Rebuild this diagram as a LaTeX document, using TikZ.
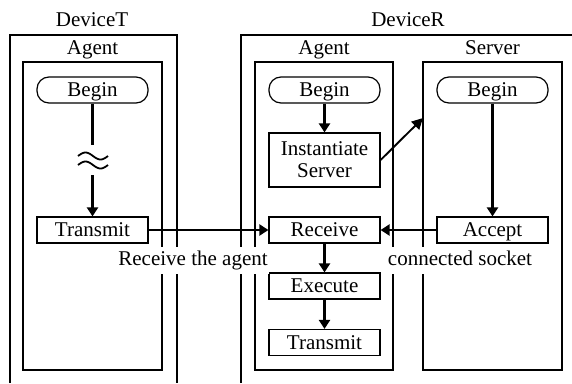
\documentclass[tikz,border=0pt]{standalone}
\usepackage{fontspec}
\setmainfont{Liberation Serif}
\usetikzlibrary{arrows.meta}
\begin{document}
\begin{tikzpicture}[x=1pt,y=-1pt,
  every node/.style={font=\fontsize{21}{22}\selectfont},
  boxbase/.style={draw,line width=1.2pt,minimum width=111pt,inner sep=0pt},
  box/.style={boxbase,minimum height=26pt,text height=13.5pt,text depth=0pt},
  beginbox/.style={box,rounded corners=12pt},
  container/.style={draw,line width=1.3pt,inner sep=0pt,minimum width=139pt,minimum height=308pt},
  outer/.style={line width=1.4pt},
  flow/.style={line width=2.8pt,-{Triangle[length=9pt,width=11pt]}},
  plainflow/.style={line width=2.8pt},
  thinflow/.style={line width=1.9pt,-{Triangle[length=11pt,width=11pt]}},
  wave/.style={line width=1.8pt},
  lbl/.style={anchor=base,inner sep=0pt},
  gaplbl/.style={anchor=base,fill=white,inner xsep=1pt,inner ysep=3.5pt,text height=15pt,text depth=5pt}
]
\useasboundingbox (0,0) rectangle (572,383);
% outer device frames (open at bottom / right)
\draw[outer] (10,383) -- (10,35) -- (177,35) -- (177,383);
\draw[outer] (241,383) -- (241,35) -- (572,35);
\node[lbl] (devT) at (92,26) {DeviceT};
\node[lbl] (devR) at (408,26) {DeviceR};
% containers
\node[container] (agentT) at (92.5,216) {};
\node[container,minimum width=138pt] (agentR) at (324,216) {};
\node[container] (serverbox) at (492.5,216) {};
\node[lbl] (agentTl) at (92.5,54) {Agent};
\node[lbl] (agentRl) at (324,54) {Agent};
\node[lbl] (serverl) at (492.5,54) {Server};
% DeviceT agent
\node[beginbox] (beginT) at (92.5,90) {Begin};
\node[box] (transT) at (92.5,230) {Transmit};
\coordinate (waveTop) at (92.5,145);
\coordinate (waveBot) at (92.5,175);
\draw[plainflow] (beginT.south) -- (waveTop);
\draw[flow] (waveBot) -- (transT.north);
\draw[wave] plot[domain=0:1,samples=40,smooth] ({78+30*\x},{156-3.5*sin(360*\x)});
\draw[wave] plot[domain=0:1,samples=40,smooth] ({78+30*\x},{165-3.5*sin(360*\x)});
% DeviceR agent
\node[beginbox] (beginA) at (324.5,90) {Begin};
\node[boxbase,minimum height=54pt,align=center] (inst) at (324.5,160) {Instantiate\\Server};
\node[box] (recv) at (324.5,230) {Receive};
\node[box] (exec) at (324.5,286) {Execute};
\node[box] (transR) at (324.5,342.5) {Transmit};
\draw[flow] (beginA.south) -- (inst.north);
\draw[flow] (recv.south) -- (exec.north);
\draw[flow] (exec.south) -- (transR.north);
% Server
\node[beginbox] (beginS) at (492.5,90) {Begin};
\node[box] (accept) at (492.5,230) {Accept};
\draw[flow] (beginS.south) -- (accept.north);
\coordinate (srvIn) at (423,118);
\draw[thinflow] (inst.east) -- (srvIn);
% cross connections
\draw[flow] (transT.east) -- (recv.west);
\draw[flow] (accept.west) -- (recv.east);
\node[gaplbl] (lblAgent) at (193,265) {Receive the agent};
\node[gaplbl] (lblSock) at (460,265) {connected socket};
\end{tikzpicture}
\end{document}
